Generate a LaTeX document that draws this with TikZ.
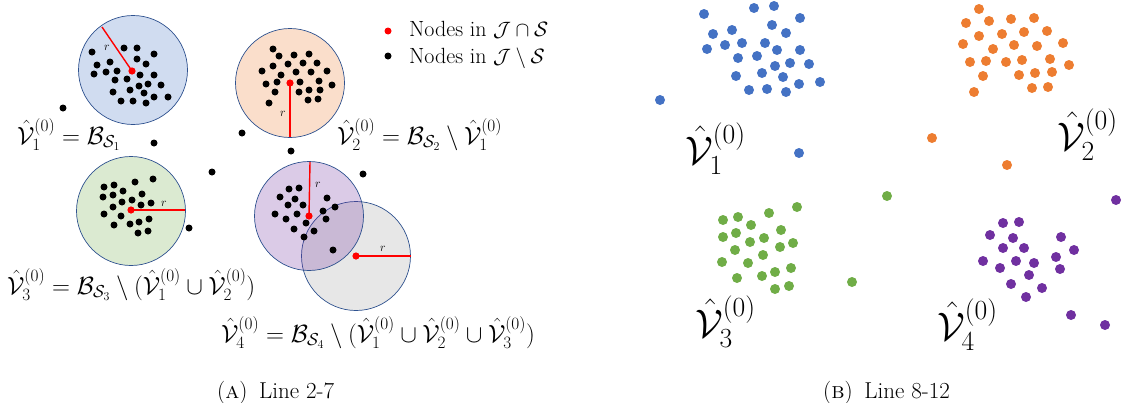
\documentclass[tikz,border=0pt]{standalone}
\usepackage{amsmath,amssymb,graphicx}
\definecolor{oblue}{RGB}{68,114,196}
\definecolor{oorange}{RGB}{237,125,49}
\definecolor{ogreen}{RGB}{112,173,71}
\definecolor{opurple}{RGB}{112,48,160}
\definecolor{ogray}{RGB}{231,231,231}
\definecolor{rim}{RGB}{47,82,143}
\tikzset{
  ball/.style={draw=rim, line width=0.7pt, fill opacity=0.25},
  radline/.style={draw=red, line width=1.4pt},
  lbl/.style={inner sep=0pt, anchor=base west, font=\fontsize{22}{26}\selectfont},
  eqlbl/.style={inner sep=0pt, anchor=base west, font=\fontsize{24.5}{28}\selectfont},
  biglbl/.style={inner sep=0pt, anchor=base west, font=\fontsize{24.5}{28}\selectfont},
  rlbl/.style={inner sep=0pt, font=\fontsize{13}{15}\selectfont},
  captext/.style={inner sep=0pt, anchor=base west, font=\fontsize{20}{24}\selectfont},
}
\newcommand{\Vh}[1]{\hat{\mathcal V}_{#1}^{(0)}}
\newcommand{\BigVh}[1]{\scalebox{1.6}{$\Vh{#1}$}}
\newcommand{\SubCapText}[1]{\scalebox{1.15}{#1}}
\begin{document}
\begin{tikzpicture}[x=1pt,y=-1pt]
\useasboundingbox (0,0) rectangle (1123,402);
% ---------- left panel: balls ----------
\fill[ogray] (356,256) circle (54.5);
\draw[rim, line width=0.7pt] (356,256) circle (54.5);
\filldraw[ball, fill=oblue] (133,70) circle (54.5);
\filldraw[ball, fill=oorange] (290,83) circle (54.5);
\filldraw[ball, fill=ogreen] (131,211) circle (54.5);
\filldraw[ball, fill=opurple] (309,216) circle (54.5);
% black dots
\foreach \p in {(92,52),(124,48),(137,48),(154,54),(97,65),(110,62),(137,59),(146,64),(94,74),(106,72),(117,71),(140,75),(154,75),(115,80),(127,79),(139,86),(148,84),(161,85),(113,92),(130,90),(144,93),(154,97),(168,97),(121,101),(133,101),(146,103),
(273,49),(279,56),(294,55),(309,54),(262,71),(273,66),(288,64),(303,63),(317,63),(281,75),(296,72),(311,72),(327,71),(266,84),(277,82),(300,82),(319,81),(332,85),(275,92),(299,92),(309,90),(320,90),(269,103),(308,100),(318,99),
(104,187),(114,185),(135,182),(153,179),(103,197),(113,195),(123,191),(142,194),(113,207),(122,202),(132,200),(141,205),(151,203),(104,214),(121,216),(114,225),(130,224),(139,222),(149,219),(138,233),(148,231),
(289,189),(299,188),(280,197),(295,199),(288,205),(303,205),(327,198),(335,207),(275,214),(286,219),(297,214),(323,211),(326,219),(306,223),(294,229),(314,231),(304,237),(333,250),
(63,108),(154,143),(242,133),(291,151),(212,172),(363,174),(189,228)}
  \fill[black] \p circle (3.5);
% radii
\draw[radline] (132,71) -- (102,27);
\draw[radline] (290,83) -- (290,137);
\draw[radline] (131,210) -- (185,210);
\draw[radline] (309,216) -- (310,162);
\draw[radline] (356,256) -- (411,256);
\foreach \p in {(132,71),(290,83),(131,210),(309,216),(356,256)}
  \fill[red] \p circle (3.6);
\node[rlbl] (r1) at (107,48) {$r$};
\node[rlbl] (r2) at (283,114) {$r$};
\node[rlbl] (r3) at (164,204) {$r$};
\node[rlbl] (r4) at (318,185) {$r$};
\node[rlbl] (r5) at (383,249) {$r$};
% legend
\fill[red] (388,31) circle (3.5);
\fill[black] (388,56) circle (3.5);
\node[lbl] (leg1) at (409,36) {Nodes in $\mathcal J \cap \mathcal S$};
\node[lbl] (leg2) at (409,63) {Nodes in $\mathcal J \setminus \mathcal S$};
% set labels
\node[eqlbl] (e1) at (17,144) {$\Vh1 = \mathcal B_{\mathcal S_1}$};
\node[eqlbl] (e2) at (337,144) {$\Vh2 = \mathcal B_{\mathcal S_2} \setminus \Vh1$};
\node[eqlbl] (e3) at (7,294) {$\Vh3 = \mathcal B_{\mathcal S_3} \setminus (\Vh1 \cup \Vh2)$};
\node[eqlbl] (e4) at (221,342) {$\Vh4 = \mathcal B_{\mathcal S_4} \setminus (\Vh1 \cup \Vh2 \cup \Vh3)$};
\node[captext] (capa) at (217,398) {\SubCapText{(\textsc{a})\hspace{0.5em}Line 2-7}};
% ---------- right panel ----------
\foreach \p in {(704,14),(754,8),(774,6),(800,18),(713,34),(732,30),(772,25),(786,33),(707,49),(725,45),(742,43),(765,43),(777,50),(800,50),(738,58),(757,56),(775,66),(790,63),(809,64),(736,76),(762,73),(783,77),(799,84),(820,82),(749,90),(767,89),(786,92),(660,100),(799,153)}
  \fill[oblue] \p circle (5);
\foreach \p in {(979,9),(966,23),(989,21),(1011,19),(1034,18),(979,36),(1002,34),(1024,32),(1047,31),(963,44),(993,49),(1014,45),(1037,46),(1063,43),(970,62),(986,61),(1006,62),(1022,60),(1050,59),(1069,65),(983,76),(1019,75),(1035,73),(1052,72),(974,92),(1032,88),(1048,87),(932,138),(1007,165)}
  \fill[oorange] \p circle (5);
\foreach \p in {(887,196),(797,207),(769,213),(738,217),(723,220),(751,225),(781,230),(723,237),(736,233),(750,242),(764,238),(780,247),(793,243),(735,250),(763,255),(722,262),(748,263),(791,268),(775,272),(762,276),(737,278),(789,286),(775,289),(852,282)}
  \fill[ogreen] \p circle (5);
\foreach \p in {(1116,200),(1003,223),(1019,222),(990,235),(1013,238),(1061,237),(1003,248),(1024,248),(1074,250),(983,261),(1016,261),(1034,263),(1056,257),(1000,268),(1029,275),(1060,269),(1011,284),(1042,288),(1026,297),(1071,315),(1105,325)}
  \fill[opurple] \p circle (5);
\node[biglbl] (v1) at (685,164) {\BigVh1};
\node[biglbl] (v2) at (1057,150) {\BigVh2};
\node[biglbl] (v3) at (695,337) {\BigVh3};
\node[biglbl] (v4) at (937,340) {\BigVh4};
\node[captext] (capb) at (823,398) {\SubCapText{(\textsc{b})\hspace{0.5em}Line 8-12}};
\end{tikzpicture}
\end{document}
